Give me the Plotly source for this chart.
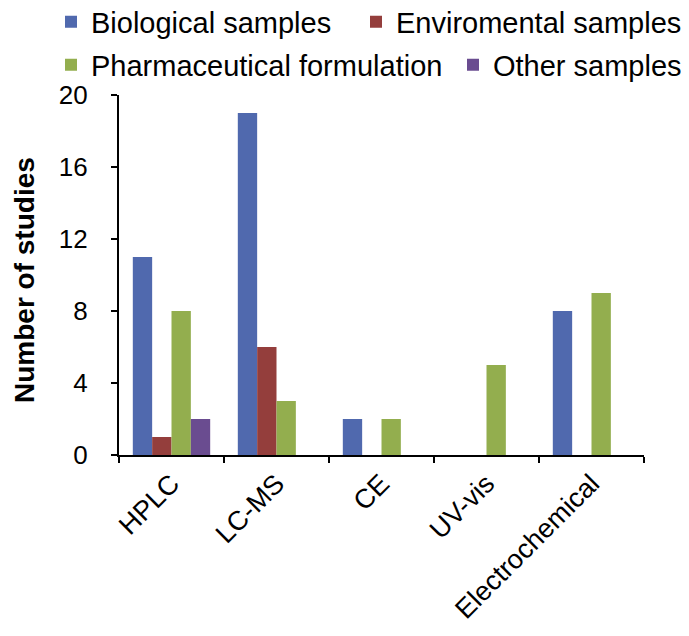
import plotly.graph_objects as go

categories = ["HPLC", "LC-MS", "CE", "UV-vis", "Electrochemical"]
biological = [11, 19, 2, 0, 8]
enviromental = [1, 6, 0, 0, 0]
pharmaceutical = [8, 3, 2, 5, 9]
other = [2, 0, 0, 0, 0]
y_title = "Number of studies"

series = [
    ("Biological samples", biological, "#5069AE", "legend"),
    ("Enviromental samples", enviromental, "#943E3C", "legend2"),
    ("Pharmaceutical formulation", pharmaceutical, "#93AE4E", "legend3"),
    ("Other samples", other, "#6A4C90", "legend4"),
]

W, H = 681, 628
ML, MR, MT, MB = 111, 45, 87, 181
PW, PH = W - ML - MR, H - MT - MB

fig = go.Figure()
for name, vals, col, lg in series:
    fig.add_trace(go.Bar(x=categories, y=vals, name=name, marker_color=col,
                         marker_line_width=0, legend=lg))

FAM = "Liberation Sans, Arial, sans-serif"
legfont = dict(family=FAM, size=29, color="black")
tickfont_x = dict(family=FAM, size=27, color="black")
tickfont_y = dict(family=FAM, size=26, color="black")
titlefont = dict(family=FAM, size=28, color="black")


def leg(xpx, ypx):
    return dict(x=xpx / W, y=1 - ypx / H, xref="container", yref="container",
                xanchor="left", yanchor="middle", font=legfont,
                itemwidth=30, bgcolor="rgba(0,0,0,0)", borderwidth=0)


fig.update_layout(
    width=W, height=H,
    paper_bgcolor="white", plot_bgcolor="white",
    margin=dict(l=ML, r=MR, t=MT, b=MB, autoexpand=False),
    barmode="group", bargap=0.263, bargroupgap=0,
    font=legfont,
    legend=leg(43, 14),
    legend2=leg(348, 14),
    legend3=leg(43, 57),
    legend4=leg(445, 57),
    showlegend=True,
)
fig.add_annotation(text=f"<b>{y_title}</b>", textangle=-90, font=titlefont,
                   xref="paper", yref="paper",
                   x=(16 - ML) / PW, y=1 - (272 - MT) / PH,
                   xanchor="center", yanchor="middle", showarrow=False,
                   borderpad=0)
fig.update_xaxes(showline=True, linecolor="black", linewidth=2,
                 ticks="outside", tickson="boundaries", ticklen=6, tickwidth=2,
                 tickcolor="black", tickangle=-45, tickfont=tickfont_x,
                 showgrid=False)
fig.update_yaxes(range=[0, 20], dtick=4, showline=True, linecolor="black",
                 linewidth=2, ticks="outside", ticklen=6, tickwidth=2,
                 tickcolor="black", tickfont=tickfont_y, showgrid=False,
                 zeroline=False, ticksuffix="\u2002\u2009")

fig.write_html("out.html")
